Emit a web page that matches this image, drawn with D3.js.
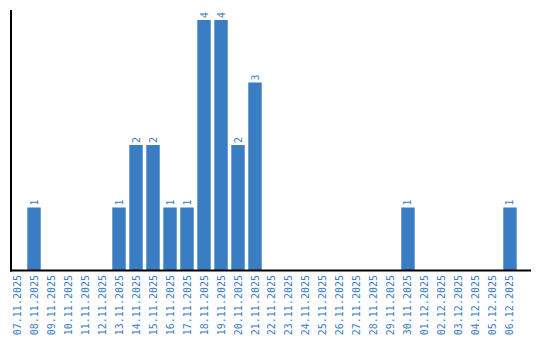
<!DOCTYPE html>
<html>
<head>
<meta charset="utf-8">
<script src="https://cdn.jsdelivr.net/npm/d3@7"></script>
<style>
  html, body { margin: 0; padding: 0; background: #ffffff; }
</style>
</head>
<body>
<div id="chart"></div>
<script>
// 日期
const dates = [
  '07.11.2025', '08.11.2025', '09.11.2025', '10.11.2025', '11.11.2025',
  '12.11.2025', '13.11.2025', '14.11.2025', '15.11.2025', '16.11.2025',
  '17.11.2025', '18.11.2025', '19.11.2025', '20.11.2025', '21.11.2025',
  '22.11.2025', '23.11.2025', '24.11.2025', '25.11.2025', '26.11.2025',
  '27.11.2025', '28.11.2025', '29.11.2025', '30.11.2025', '01.12.2025',
  '02.12.2025', '03.12.2025', '04.12.2025', '05.12.2025', '06.12.2025'
]
// 数值
const counts = [
  0, 1, 0, 0, 0,
  0, 1, 2, 2, 1,
  1, 4, 4, 2, 3,
  0, 0, 0, 0, 0,
  0, 0, 0, 1, 0,
  0, 0, 0, 0, 1
]

const width = 540
const height = 340
const color = '#3b7dc2'
const font = 'DejaVu Sans Mono, monospace'

const svg = d3.select('#chart')
  .append('svg')
  .attr('width', width)
  .attr('height', height)

const x = d3.scaleBand()
  .domain(dates)
  .range([10.3, 516.7])
  .paddingInner(0.21)
  .paddingOuter(0)

const y = d3.scaleLinear()
  .domain([0, 4])
  .range([270, 20])

const rows = dates.map((d, i) => ({ date: d, value: counts[i] }))

// 柱子
svg.selectAll('rect.bar').data(rows.filter(d => d.value > 0)).enter()
  .append('rect')
  .classed('bar', true)
  .attr('x', d => x(d.date))
  .attr('y', d => y(d.value))
  .attr('width', x.bandwidth())
  .attr('height', d => y(0) - y(d.value))
  .style('fill', color)

// 数值标签
svg.selectAll('text.val').data(rows.filter(d => d.value > 0)).enter()
  .append('text')
  .classed('val', true)
  .attr('transform', d => `translate(${x(d.date) + x.bandwidth() / 2 + 3.5},${y(d.value) - 2}) rotate(-90)`)
  .style('font-family', font)
  .style('font-size', '10px')
  .style('fill', color)
  .text(d => d.value)

// 坐标轴线
svg.append('line')
  .attr('x1', 11).attr('x2', 11)
  .attr('y1', 10).attr('y2', 271.5)
  .style('stroke', '#000')
  .style('stroke-width', 2)

svg.append('line')
  .attr('x1', 10).attr('x2', 531)
  .attr('y1', 270.5).attr('y2', 270.5)
  .style('stroke', '#000')
  .style('stroke-width', 2)

// 日期标签
svg.selectAll('text.tick').data(dates).enter()
  .append('text')
  .classed('tick', true)
  .attr('transform', d => `translate(${x(d) + x.bandwidth() / 2 + 3.5},275) rotate(-90)`)
  .attr('text-anchor', 'end')
  .style('font-family', font)
  .style('font-size', '10px')
  .style('fill', color)
  .text(d => d)
</script>
</body>
</html>
